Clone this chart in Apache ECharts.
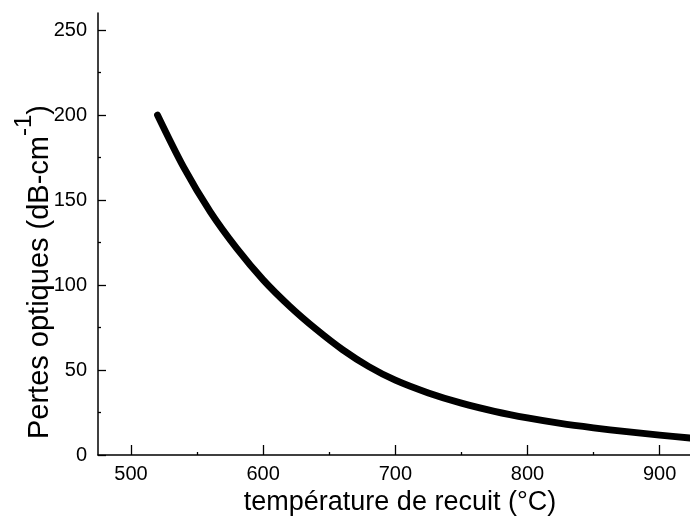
<!DOCTYPE html>
<html>
<head>
<meta charset="utf-8">
<script src="https://cdn.jsdelivr.net/npm/echarts@6/dist/echarts.min.js"></script>
<style>
html,body{margin:0;padding:0;background:#fff;}
#chart{width:690px;height:530px;}
</style>
</head>
<body>
<div id="chart"></div>
<script>
// Annealing temperature (°C)
const temperatures = [520, 540, 560, 580, 600, 620, 640, 660, 680, 700, 725, 750, 775, 800, 825, 850, 875, 900, 923];
// Optical losses (dB-cm-1)
const losses = [200, 169, 143, 121.5, 103, 87.5, 74, 62, 52, 44, 36.5, 30.5, 25.7, 21.8, 18.6, 16, 13.7, 11.7, 10];

const xMajorTicks = [500, 600, 700, 800, 900];
const xMinorTicks = [550, 650, 750, 850];
const yMajorTicks = [0, 50, 100, 150, 200, 250];
const yMinorTicks = [25, 75, 125, 175, 225];

const xTitle = 'température de recuit (°C)';
const yTitleMain = 'Pertes optiques (dB-cm';
const yTitleSup = '-1';
const yTitleEnd = ')';

const FONT = '"Liberation Sans", Arial, Helvetica, sans-serif';
const X_MIN = 475, X_MAX = 923, Y_MIN = 0, Y_MAX = 260;

const chart = echarts.init(document.getElementById('chart'), null, {renderer: 'canvas'});

const baseX = {
  type: 'value', min: X_MIN, max: X_MAX, position: 'bottom',
  splitLine: {show: false}
};
const baseY = {
  type: 'value', min: Y_MIN, max: Y_MAX, position: 'left',
  splitLine: {show: false}
};

const option = {
  backgroundColor: '#ffffff',
  animation: false,
  grid: {left: 98, right: 0, top: 13, bottom: 75, containLabel: false, outerBoundsMode: 'none'},
  xAxis: [
    Object.assign({}, baseX, {
      name: xTitle,
      nameLocation: 'middle',
      nameGap: 34,
      nameMoveOverlap: false,
      nameTextStyle: {fontFamily: FONT, fontSize: 27, color: '#000', padding: [0, 0, 0, 12]},
      axisLine: {show: true, lineStyle: {color: '#000', width: 1.5}},
      axisTick: {show: true, inside: true, length: 10, lineStyle: {color: '#000', width: 1.3}, customValues: xMajorTicks},
      axisLabel: {show: true, margin: 9, fontFamily: FONT, fontSize: 20, color: '#000', customValues: xMajorTicks}
    }),
    Object.assign({}, baseX, {
      axisLine: {show: false},
      axisTick: {show: true, inside: true, length: 3, lineStyle: {color: '#000', width: 1.3}, customValues: xMinorTicks},
      axisLabel: {show: false}
    })
  ],
  yAxis: [
    Object.assign({}, baseY, {
      name: '{n|' + yTitleMain + '}{s|' + yTitleSup + '}{n|' + yTitleEnd + '}',
      nameLocation: 'middle',
      nameRotate: 90,
      nameGap: 44,
      nameMoveOverlap: false,
      nameTextStyle: {
        fontFamily: FONT, fontSize: 29, color: '#000',
        padding: [0, 76, 0, 0],
        rich: {
          n: {fontFamily: FONT, fontSize: 29, color: '#000', lineHeight: 29, verticalAlign: 'bottom'},
          s: {fontFamily: FONT, fontSize: 24, color: '#000', lineHeight: 42, verticalAlign: 'top'}
        }
      },
      axisLine: {show: true, lineStyle: {color: '#000', width: 1.5}},
      axisTick: {show: true, inside: true, length: 8, lineStyle: {color: '#000', width: 1.3}, customValues: yMajorTicks},
      axisLabel: {show: true, margin: 11, fontFamily: FONT, fontSize: 20, color: '#000', customValues: yMajorTicks}
    }),
    Object.assign({}, baseY, {
      axisLine: {show: false},
      axisTick: {show: true, inside: true, length: 3, lineStyle: {color: '#000', width: 1.3}, customValues: yMinorTicks},
      axisLabel: {show: false}
    })
  ],
  series: [{
    type: 'line',
    xAxisIndex: 0,
    yAxisIndex: 0,
    data: temperatures.map((t, i) => [t, losses[i]]),
    smooth: 0.3,
    showSymbol: false,
    symbol: 'none',
    clip: true,
    lineStyle: {color: '#000', width: 6.8, cap: 'round', join: 'round'}
  }]
};

chart.setOption(option);
</script>
</body>
</html>
